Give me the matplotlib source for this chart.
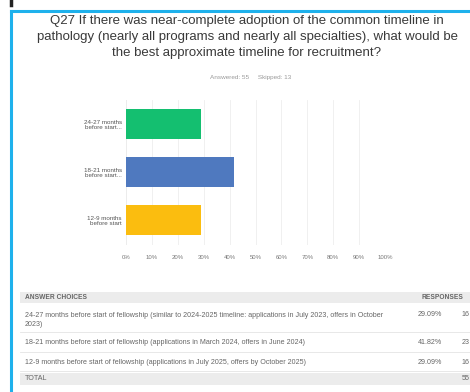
import matplotlib.pyplot as plt
from matplotlib.patches import Rectangle
from matplotlib.lines import Line2D
from matplotlib.ticker import MultipleLocator, FuncFormatter

plt.rcParams['font.family'] = ['Liberation Sans', 'DejaVu Sans']

# survey answers, top to bottom
labels = ['24-27 months\nbefore start...', '18-21 months\nbefore start...', '12-9 months\nbefore start']
percents = [29.09, 41.82, 29.09]
counts = [16, 23, 16]
colors = ['#14bf70', '#4f79bf', '#fbbd0f']

choices = [
    '24-27 months before start of fellowship (similar to 2024-2025 timeline: applications in July 2023, offers in October\n2023)',
    '18-21 months before start of fellowship (applications in March 2024, offers in June 2024)',
    '12-9 months before start of fellowship (applications in July 2025, offers by October 2025)',
]
answered, skipped = 55, 13

fig = plt.figure(figsize=(4.7, 3.92), dpi=100)
W, H = 470, 392

def fx(px):
    return px / W

def fy(py):
    return 1 - py / H

# frame of the question card
fig.add_artist(Line2D([fx(10.5), fx(10.5)], [fy(10.5), 0], color='#1eb1ec', lw=2.2))
fig.add_artist(Line2D([fx(10.5), 1], [fy(10.5), fy(10.5)], color='#1eb1ec', lw=2.2))
fig.add_artist(Line2D([fx(11), fx(11)], [1, fy(5)], color='#222222', lw=2.5))

fig.text(fx(247), fy(37), 'Q27 If there was near-complete adoption of the common timeline in\n'
         'pathology (nearly all programs and nearly all specialties), what would be\n'
         'the best approximate timeline for recruitment?',
         ha='center', va='center', fontsize=9.5, color='#3a3a3a', linespacing=1.45)
fig.text(fx(251), fy(78), f'Answered: {answered}     Skipped: {skipped}',
         ha='center', va='center', fontsize=4.6, color='#9a9a9a')

ax = fig.add_axes([fx(126), fy(245), fx(385) - fx(126), (245 - 100) / H])
y = list(range(len(labels)))
ax.barh(y, percents, height=0.64, color=colors, zorder=2)
ax.set_xlim(0, 100)
ax.set_ylim(2.52, -0.5)
ax.set_yticks(y)
ax.set_yticklabels(labels, fontsize=4.5, color='#555555')
ax.xaxis.set_major_locator(MultipleLocator(10))
ax.xaxis.set_major_formatter(FuncFormatter(lambda v, p: f'{v:.0f}%'))
ax.tick_params(axis='x', labelsize=4.3, colors='#777777', length=0, pad=7)
ax.tick_params(axis='y', length=0, pad=3)
ax.grid(axis='x', color='#eeeeee', lw=0.6, zorder=0)
for s in ax.spines.values():
    s.set_visible(False)
ax.axvline(0, color='#dddddd', lw=0.6, zorder=1)

# answer table
fig.add_artist(Rectangle((fx(20), fy(303)), 1 - fx(20), 11 / H, color='#ececec', lw=0))
fig.text(fx(25), fy(297.5), 'ANSWER CHOICES', fontsize=4.8, color='#666666', va='center', weight='bold')
fig.text(fx(421), fy(297.5), 'RESPONSES', fontsize=4.8, color='#666666', va='center', weight='bold')

row_y = [320, 343, 362]
row_lines = [332, 352, 371]
for txt, pc, n, ry, ly in zip(choices, percents, counts, row_y, row_lines):
    fig.text(fx(25), fy(ry), txt, fontsize=5.1, color='#666666', va='center', linespacing=1.45)
    fig.text(fx(442), fy(ry - (5 if '\n' in txt else 0)), f'{pc:.2f}%', fontsize=5.1,
             color='#666666', va='center', ha='right')
    fig.text(fx(462), fy(ry - (5 if '\n' in txt else 0)), f'{n}', fontsize=5.1,
             color='#666666', va='center')
    fig.add_artist(Line2D([fx(20), 1], [fy(ly), fy(ly)], color='#e4e4e4', lw=0.6))

fig.add_artist(Rectangle((fx(20), fy(385)), 1 - fx(20), 12 / H, color='#ececec', lw=0))
fig.text(fx(25), fy(379), 'TOTAL', fontsize=5.1, color='#666666', va='center')
fig.text(fx(462), fy(379), f'{sum(counts)}', fontsize=5.1, color='#666666', va='center')

fig.savefig('out.png', dpi=100, facecolor='white')
